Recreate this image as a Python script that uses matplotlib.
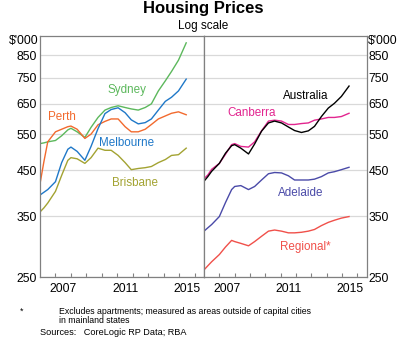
import numpy as np
import matplotlib.pyplot as plt
from matplotlib.ticker import FixedLocator, NullFormatter, NullLocator

plt.rcParams['font.family'] = ['Liberation Sans', 'DejaVu Sans']

# sample dates (decimal years)
dates = [2006.0, 2006.25, 2006.5, 2007.0, 2007.4, 2007.8, 2008.0, 2008.4,
         2008.9, 2009.3, 2009.75, 2010.2, 2010.6, 2011.05, 2011.5, 2011.9,
         2012.35, 2012.8, 2013.2, 2013.65, 2014.1, 2014.5, 2014.95, 2015.45]

# median dwelling prices, $'000
sydney = [522, 524, 527, 531, 545, 563, 568, 557, 540, 571, 603, 628,
          637, 643, 637, 632, 628, 637, 650, 698, 738, 777, 827, 910]
perth = [418, 472, 527, 557, 565, 573, 575, 565, 537, 550, 579, 590,
         598, 598, 573, 557, 557, 565, 580, 598, 608, 617, 622, 612]
melbourne = [393, 399, 405, 423, 470, 506, 512, 500, 476, 514, 567, 616,
             630, 636, 619, 595, 582, 586, 598, 628, 659, 674, 698, 745]
brisbane = [358, 366, 376, 401, 438, 476, 483, 480, 468, 483, 509, 503,
            503, 489, 470, 452, 455, 457, 460, 470, 478, 489, 491, 509]
australia = [424, 435, 448, 468, 495, 516, 519, 509, 493, 521, 559, 585,
             591, 585, 572, 561, 555, 560, 574, 606, 635, 652, 677, 717]
canberra = [430, 439, 453, 468, 492, 519, 522, 514, 512, 527, 560, 591,
            594, 591, 580, 580, 583, 585, 594, 598, 603, 603, 606, 617]
adelaide = [322, 328, 334, 349, 377, 405, 412, 414, 405, 412, 427, 442,
            445, 444, 437, 427, 427, 427, 429, 435, 444, 447, 452, 458]
regional = [260, 266, 272, 283, 295, 306, 304, 301, 297, 304, 313, 322,
            324, 322, 319, 319, 320, 322, 325, 332, 338, 342, 346, 349]

yticks = [250, 350, 450, 550, 650, 750, 850]
year_ticks = list(range(2007, 2017))
year_labels = ['2007', '2011', '2015']

fig = plt.figure(figsize=(4, 3.42), dpi=100)
axl = fig.add_axes([0.1, 0.19, 0.41, 0.7047])
axr = fig.add_axes([0.51, 0.19, 0.4067, 0.7047])

fs = 8.7
spine_col = '#808080'
for ax in (axl, axr):
    ax.set_yscale('log')
    ax.set_ylim(250, 945)
    ax.set_xlim(2006.0, 2016.6)
    ax.yaxis.set_major_locator(FixedLocator(yticks))
    ax.yaxis.set_minor_locator(NullLocator())
    ax.yaxis.set_minor_formatter(NullFormatter())
    ax.grid(axis='y', color='#d9d9d9', linewidth=0.9)
    ax.set_axisbelow(True)
    ax.set_xticks(year_ticks)
    ax.set_xticklabels([])
    ax.set_xticks([int(l) + 0.5 for l in year_labels], minor=True)
    ax.set_xticklabels(year_labels, minor=True)
    ax.tick_params(axis='x', which='major', direction='in', length=3,
                   width=0.8, color=spine_col)
    ax.tick_params(axis='x', which='minor', length=0, pad=4, labelsize=fs)
    ax.tick_params(axis='y', length=0, labelsize=fs)
    for s in ax.spines.values():
        s.set_color(spine_col)
        s.set_linewidth(0.9)

axl.yaxis.set_ticklabels([str(v) for v in yticks])
axl.tick_params(axis='y', pad=2)
axr.yaxis.tick_right()
axr.yaxis.set_ticklabels([str(v) for v in yticks])
axr.tick_params(axis='y', pad=1.5)

axl.text(-0.008, 0.979, "$'000", transform=axl.transAxes, ha='right',
         va='center', fontsize=fs)
axr.text(1.008, 0.979, "$'000", transform=axr.transAxes, ha='left',
         va='center', fontsize=fs)

lw = 1.0
c_syd, c_per, c_mel, c_bri = '#5cb85c', '#f26a2e', '#1f78c8', '#a3a332'
c_aus, c_cbr, c_adl, c_reg = '#000000', '#e2258f', '#4a4aa8', '#f0504a'

axl.plot(dates, sydney, color=c_syd, lw=lw)
axl.plot(dates, perth, color=c_per, lw=lw)
axl.plot(dates, melbourne, color=c_mel, lw=lw)
axl.plot(dates, brisbane, color=c_bri, lw=lw)

axr.plot(dates, canberra, color=c_cbr, lw=lw)
axr.plot(dates, australia, color=c_aus, lw=lw)
axr.plot(dates, adelaide, color=c_adl, lw=lw)
axr.plot(dates, regional, color=c_reg, lw=lw)

lab = dict(fontsize=8.4, ha='center', va='center')
axl.text(2011.62, 701, 'Sydney', color=c_syd, **lab)
axl.text(2007.45, 605, 'Perth', color=c_per, **lab)
axl.text(2011.6, 524, 'Melbourne', color=c_mel, **lab)
axl.text(2012.12, 421, 'Brisbane', color=c_bri, **lab)
axr.text(2012.61, 679, 'Australia', color=c_aus, **lab)
axr.text(2009.13, 618, 'Canberra', color=c_cbr, **lab)
axr.text(2012.29, 397, 'Adelaide', color=c_adl, **lab)
axr.text(2012.63, 295, 'Regional*', color=c_reg, **lab)

fig.text(203 / 400, 1 - 9 / 342, 'Housing Prices', ha='center', va='center',
         fontsize=12, fontweight='bold')
fig.text(203 / 400, 1 - 26 / 342, 'Log scale', ha='center', va='center',
         fontsize=8.5)

fn = 6.3
fig.text(20 / 400, 1 - 311 / 342, '*', ha='left', va='center', fontsize=fn)
fig.text(59 / 400, 1 - 311.8 / 342,
         'Excludes apartments; measured as areas outside of capital cities',
         ha='left', va='center', fontsize=fn)
fig.text(59 / 400, 1 - 320.6 / 342, 'in mainland states', ha='left',
         va='center', fontsize=fn)
fig.text(40 / 400, 1 - 332.7 / 342, 'Sources:   CoreLogic RP Data; RBA',
         ha='left', va='center', fontsize=fn + 0.3)

fig.savefig('out.png', dpi=100)
